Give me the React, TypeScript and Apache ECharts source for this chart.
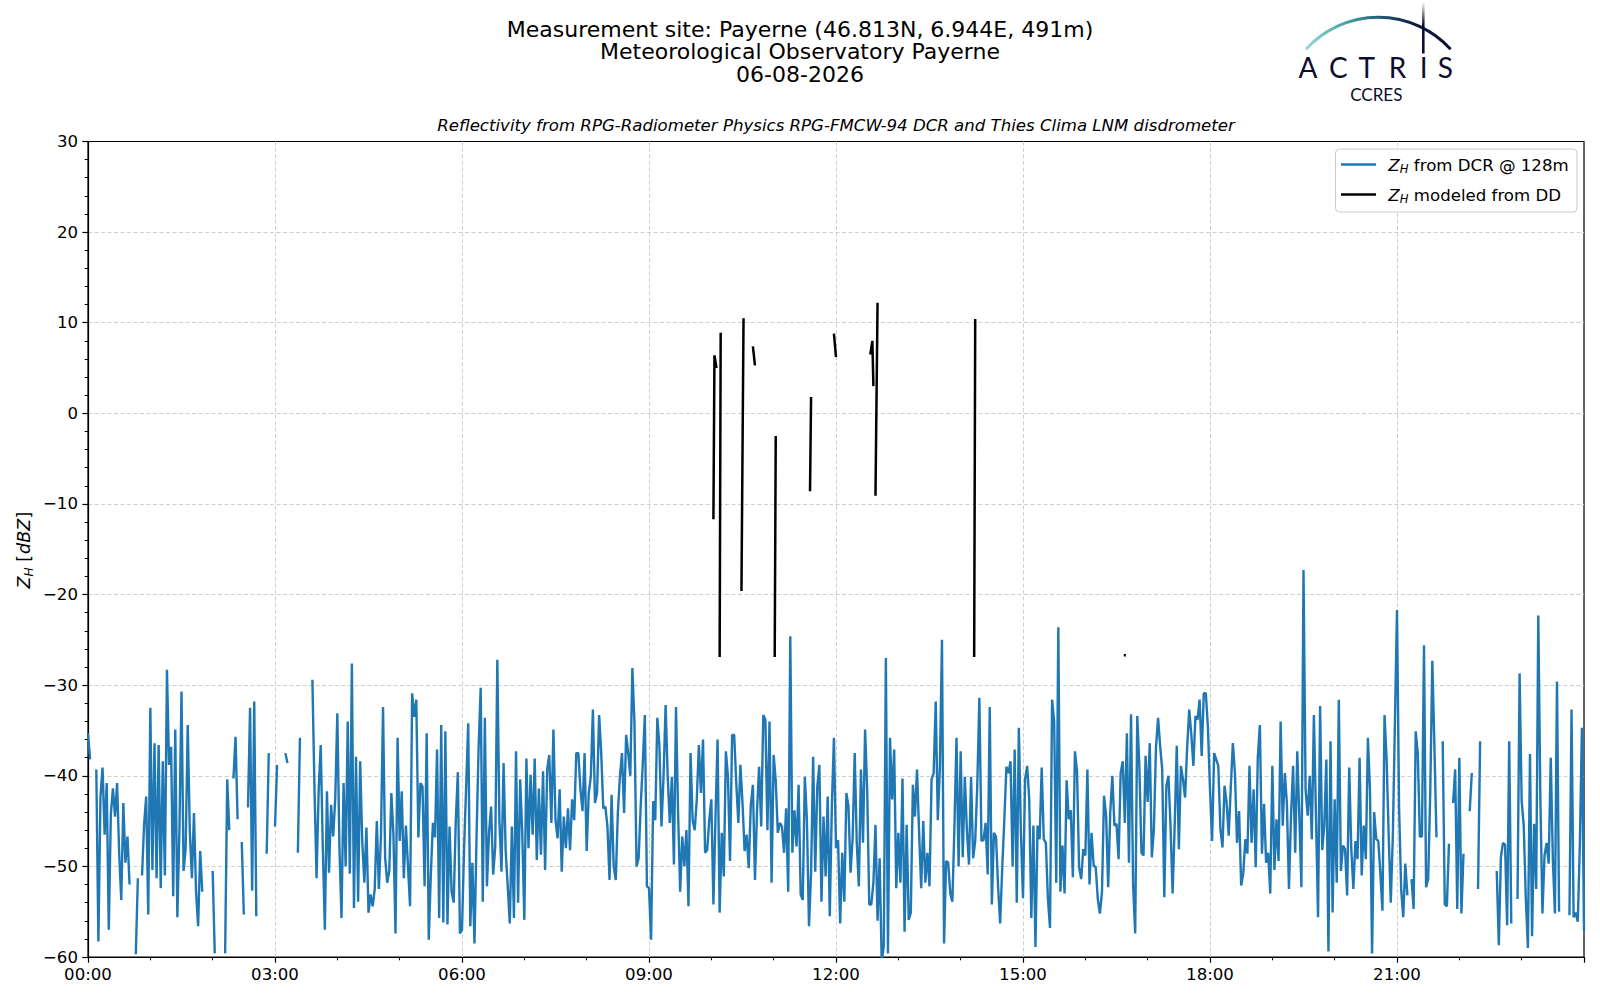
import React, { useEffect, useRef } from "react";
import * as echarts from "echarts";

// ---- Data (2-minute resolution, null = no data) ----
const DCR_00_03 = [
  -35.3, -38.2, null, null, -39.3, -58.3, -42.3, -39.1, -46.5, -40.8,
  -57.0, -44.2, -41.4, -44.5, -40.8, -48.5, -53.7, -43.0, -49.6, -46.7,
  -52.0, null, null, -59.7, -51.3, null, -51.0, -45.4, -42.3, -55.3,
  -32.5, -50.4, -36.4, -51.3, -36.6, -52.4, -38.4, -51.0, -28.3, -38.8,
  -36.8, -53.3, -34.9, -55.6, -46.1, -30.7, -50.5, -48.0, -34.4, -46.1,
  -51.3, -44.1, -52.8, -56.6, -48.3, -52.8, null, null, null, null,
  -50.5, -59.6, null, null, null, null, -59.6, -40.4, -46.0, null,
  -40.3, -35.7, -44.8, null, -47.3, -55.3, null, -43.5, -32.5, -52.7,
  -31.8, -55.5, null, null, null, null, -48.6, -37.5, null, null,
];
const DCR_03_06 = [
  -45.6, -38.8, null, null, null, -37.5, -38.6, null, null, null,
  null, -48.5, -35.8, null, null, null, null, null, -29.4, -41.4,
  -51.3, -41.7, -36.6, -47.8, -57.0, -41.7, -50.7, -43.2, -46.7, -42.5,
  -33.1, -47.8, -55.7, -40.8, -50.0, -34.0, -50.8, -27.6, -54.6, -37.9,
  -53.9, -38.4, -47.3, -51.8, -45.7, -55.1, -53.1, -54.4, -52.5, -45.0,
  -52.5, -46.6, -32.4, -49.0, -51.8, -50.5, -41.9, -46.5, -57.4, -35.8,
  -47.2, -41.7, -51.3, -45.5, -50.0, -54.4, -30.9, -33.5, -31.6, -46.8,
  -40.8, -41.2, -52.2, -35.3, -58.1, -50.9, -45.2, -46.8, -37.1, -55.7,
  -34.4, -56.2, -35.1, -56.4, -45.6, -52.8, -54.0, -45.0, -39.6, -57.4,
];
const DCR_06_09 = [
  -57.0, -48.0, -41.2, -34.2, -56.6, -49.6, -58.5, -46.7, -36.8, -30.3,
  -53.9, -33.6, -52.2, -46.3, -43.4, -50.9, -47.8, -27.2, -44.9, -50.6,
  -38.6, -48.2, -52.2, -56.3, -45.6, -55.7, -37.3, -54.0, -40.4, -46.3,
  -55.9, -38.1, -48.0, -39.9, -46.5, -38.1, -49.3, -41.4, -48.7, -39.5,
  -50.4, -39.3, -37.7, -45.2, -34.9, -44.9, -46.9, -41.5, -50.6, -44.5,
  -48.0, -43.6, -48.2, -42.6, -44.9, -37.5, -37.5, -41.5, -43.9, -37.5,
  -48.3, -41.9, -40.1, -32.7, -43.0, -41.9, -33.3, -37.5, -43.6, -43.4,
  -45.6, -51.5, -42.1, -50.0, -51.5, -44.1, -40.1, -37.5, -44.1, -35.5,
  -37.5, -40.0, -28.1, -34.2, -50.0, -49.1, -43.4, -38.6, -33.3, -52.2,
];
const DCR_09_12 = [
  -52.4, -58.1, -42.8, -44.9, -33.6, -36.6, -45.6, -40.1, -32.2, -40.1,
  -45.2, -40.1, -49.8, -32.4, -44.1, -52.8, -46.7, -50.0, -46.0, -54.4,
  -37.5, -44.9, -46.0, -42.6, -36.6, -41.9, -36.0, -48.5, -48.2, -44.9,
  -42.6, -54.2, -44.5, -36.0, -55.1, -46.3, -51.1, -37.3, -40.1, -49.4,
  -35.5, -35.5, -40.8, -45.2, -38.8, -43.0, -48.3, -46.5, -50.2, -43.2,
  -41.0, -51.5, -43.8, -39.0, -45.6, -33.3, -33.8, -46.0, -34.0, -51.8,
  -37.7, -40.6, -46.3, -45.2, -45.6, -48.5, -43.6, -52.8, -24.6, -48.5,
  -43.8, -47.8, -41.0, -53.1, -53.7, -40.1, -44.9, -56.6, -50.7, -37.9,
  -50.6, -41.2, -38.8, -53.9, -44.5, -51.1, -42.3, -55.5, -43.4, -35.8,
];
const DCR_12_15 = [
  -48.0, -47.1, -56.3, -48.5, -53.9, -41.9, -43.4, -50.7, -46.9, -37.5,
  -47.4, -52.2, -39.3, -47.4, -34.9, -41.5, -54.2, -54.2, -51.8, -45.4,
  -56.0, -49.1, -60.5, -58.8, -27.0, -59.6, -35.8, -42.6, -37.1, -52.4,
  -46.3, -51.8, -40.3, -57.2, -45.4, -55.9, -55.1, -41.0, -44.5, -39.3,
  -46.3, -52.4, -45.0, -51.8, -48.5, -52.2, -40.4, -39.7, -31.8, -44.9,
  -39.0, -25.0, -58.5, -49.4, -49.6, -53.0, -53.9, -45.6, -35.8, -50.0,
  -37.3, -49.0, -40.1, -46.0, -49.8, -40.1, -49.1, -47.2, -41.0, -31.4,
  -47.2, -47.1, -45.2, -50.9, -32.4, -54.2, -46.3, -46.7, -52.2, -56.3,
  -50.2, -44.9, -39.0, -39.7, -38.4, -50.0, -37.1, -54.0, -34.7, -46.3,
];
const DCR_15_18 = [
  -53.5, -40.4, -38.9, -42.6, -55.7, -45.5, -58.9, -45.5, -47.0, -39.1,
  -47.0, -47.4, -53.6, -56.8, -31.6, -34.0, -51.8, -23.6, -52.8, -47.7,
  -53.0, -40.5, -44.8, -43.8, -51.2, -37.3, -39.5, -50.1, -51.4, -48.1,
  -48.8, -39.3, -52.0, -46.3, -49.9, -50.1, -53.6, -55.2, -52.9, -42.2,
  -44.4, -52.3, -44.0, -40.0, -45.5, -45.3, -49.2, -39.7, -38.4, -45.2,
  -35.3, -49.6, -33.2, -52.1, -57.4, -33.4, -38.9, -48.5, -48.8, -37.8,
  -42.9, -36.4, -49.0, -45.9, -36.9, -33.6, -36.7, -39.3, -53.4, -41.1,
  -40.0, -45.5, -53.0, -45.5, -36.7, -48.1, -38.9, -40.4, -42.4, -36.9,
  -32.7, -35.4, -38.9, -33.4, -33.8, -31.6, -37.8, -30.9, -30.9, -34.7,
];
const DCR_18_21 = [
  -41.5, -47.2, -37.5, -38.2, -38.9, -45.9, -47.9, -41.1, -43.0, -46.6,
  -41.3, -36.4, -39.7, -47.4, -43.9, -52.1, -50.8, -47.0, -48.6, -38.9,
  -47.4, -41.5, -50.1, -38.0, -34.4, -48.6, -43.1, -49.6, -48.5, -53.0,
  -38.9, -50.4, -44.8, -49.4, -34.0, -45.5, -39.7, -43.0, -52.5, -44.4,
  -38.9, -48.5, -37.3, -44.6, -52.3, -17.3, -41.5, -44.4, -40.0, -47.0,
  -33.3, -44.4, -55.6, -32.3, -48.2, -45.5, -38.2, -59.4, -36.2, -55.1,
  -42.6, -51.8, -31.6, -50.5, -47.7, -48.1, -53.2, -39.1, -48.1, -52.5,
  -47.2, -49.2, -38.0, -51.0, -45.5, -49.2, -35.8, -41.6, -59.6, -44.0,
  -47.0, -47.2, -50.8, -54.9, -33.3, -38.2, -46.6, -54.0, -46.6, -34.0,
];
const DCR_21_24 = [
  -21.7, -43.5, -52.5, -55.6, -49.7, -53.2, null, -51.4, -54.7, -35.1,
  -37.5, -46.7, -46.7, -25.6, -52.3, -51.4, -41.9, -27.3, -36.7, -46.8,
  null, null, -36.2, -54.2, -54.4, -47.5, null, -43.0, -39.3, -54.7,
  -38.0, -55.2, -48.6, null, null, -43.9, -39.7, null, null, -52.5,
  -36.2, null, null, null, null, null, null, null, -50.5, -58.7,
  -49.0, -47.4, -47.6, -56.5, -36.2, -56.3, null, null, -53.6, -28.7,
  -42.8, -45.5, -53.6, -59.0, -37.6, -57.7, -45.3, -52.5, -22.3, -42.6,
  -55.2, -48.8, -47.4, -49.7, -38.0, -49.2, -55.2, -29.6, -55.0, null,
  null, null, null, -55.4, -32.7, -55.6, -55.1, -56.1, -47.6, -34.7,
  -57.1,
];
const DCR_STEP_MIN = 2;

// Disdrometer-modeled reflectivity: minute of day, value (null = gap)
const DD_MINUTES = [
  602, 603, 605, 606, 608, 609, 610, 629, 631, 632, 640, 642, 643,
  661, 662, 663, 695, 696, 697, 718, 720, 721, 753, 755, 756, 757,
  758, 760, 761, 853, 854, 855, 997, 999,
];
const DD_VALUES = [
  -11.7, 6.4, 5.0, null, -26.9, 8.9, null, -19.6, 10.5, null, 7.4, 5.3, null,
  -26.9, -2.5, null, -8.6, 1.8, null, 8.8, 6.2, null, 6.5, 8.0, 3.0, null,
  -9.1, 12.2, null, -26.9, 10.4, null, -26.7, -26.7,
];

const X_TICKS_HOURS = [0, 3, 6, 9, 12, 15, 18, 21];
const TITLE_LINES = [
  "Measurement site: Payerne (46.813N, 6.944E, 491m)",
  "Meteorological Observatory Payerne",
  "06-08-2026",
];
const SUBTITLE =
  "Reflectivity from RPG-Radiometer Physics RPG-FMCW-94 DCR and Thies Clima LNM disdrometer";
const LEGEND_NAMES = ["Z_H from DCR @ 128m", "Z_H modeled from DD"];
const LEGEND_REST = [" from DCR @ 128m", " modeled from DD"];
const LOGO_LETTERS = ["A", "C", "T", "R", "I", "S"];

const FONT = "DejaVu Sans";
const BLUE = "#1f77b4";
const NAVY = "#0d0d30";
const FS = 16.6;
const YL = 17.5;

function txt(x: number, y: number, text: string, size: number, opts: any = {}) {
  return {
    type: "text",
    x,
    y,
    z: opts.z != null ? opts.z : 50,
    silent: true,
    style: {
      text,
      fontFamily: opts.family || FONT,
      fontSize: size,
      fontStyle: opts.italic ? "italic" : "normal",
      fontWeight: opts.weight || "normal",
      fill: opts.color || "#000",
      lineHeight: opts.lineHeight || undefined,
      align: opts.align || "left",
      textAlign: opts.align || "left",
      verticalAlign: "middle",
      textVerticalAlign: "middle",
    },
  };
}

export default function App() {
  const ref = useRef<HTMLDivElement>(null);

  useEffect(() => {
    if (!ref.current) return;
    const chart = echarts.init(ref.current, null, { renderer: "svg" });

    const dcrAll = [
      ...DCR_00_03, ...DCR_03_06, ...DCR_06_09, ...DCR_09_12,
      ...DCR_12_15, ...DCR_15_18, ...DCR_18_21, ...DCR_21_24,
    ];
    const dcrData = dcrAll.map((v, i) => [(i * DCR_STEP_MIN) / 60, v]);
    const ddData = DD_MINUTES.map((m, i) => [m / 60, DD_VALUES[i]]);

    const gridL = 88, gridT = 141.5, gridR = 1584, gridB = 957;

    const legendX = 1335.5, legendY = 149;
    const legendEls: any[] = [
      {
        type: "rect",
        silent: true,
        z: 100,
        shape: { x: legendX, y: legendY, width: 241.5, height: 63, r: 4 },
        style: { fill: "rgba(255,255,255,0.85)", stroke: "#cccccc", lineWidth: 1 },
      },
    ];
    [BLUE, "#000"].forEach((c, i) => {
      const cy = 164.5 + i * 30;
      legendEls.push({
        type: "line",
        silent: true,
        z: 101,
        shape: { x1: 1341, y1: cy, x2: 1376, y2: cy },
        style: { stroke: c, lineWidth: 2.4 },
      });
      legendEls.push(txt(1388.3, cy + 0.5, "Z", FS, { italic: true, z: 101 }));
      legendEls.push(txt(1399.8, cy + 4.8, "H", 11.6, { italic: true, z: 101 }));
      legendEls.push(txt(1408.6, cy + 0.5, LEGEND_REST[i], FS, { z: 101 }));
    });

    const letterX = [1308, 1338.3, 1366.7, 1397.5, 1423.7, 1445.3];
    const splitLine = {
      show: true,
      showMinLine: false,
      showMaxLine: false,
      lineStyle: { color: "#cfcfcf", type: [4, 2.5], width: 1 },
    };

    const option: any = {
      animation: false,
      backgroundColor: "#ffffff",
      textStyle: { fontFamily: FONT },
      title: [
        ...TITLE_LINES.map((t, i) => ({
          text: t,
          left: 800,
          top: 18 + i * 22.5,
          textAlign: "center",
          padding: 0,
          textStyle: {
            fontFamily: FONT,
            fontSize: 22,
            fontWeight: "normal",
            color: "#000",
            lineHeight: 22,
          },
        })),
        {
          text: SUBTITLE,
          left: 836,
          top: 115,
          textAlign: "center",
          padding: 0,
          textStyle: {
            fontFamily: FONT,
            fontSize: FS,
            fontStyle: "italic",
            fontWeight: "normal",
            color: "#000",
            lineHeight: 20,
          },
        },
      ],
      grid: {
        left: gridL,
        top: gridT,
        width: gridR - gridL,
        height: gridB - gridT,
        show: true,
        borderColor: "#000",
        borderWidth: 1.2,
        backgroundColor: "transparent",
        containLabel: false,
      },
      xAxis: {
        type: "value",
        min: 0,
        max: 24,
        interval: 3,
        axisLine: { show: true, onZero: false, lineStyle: { color: "#000", width: 1.2 } },
        axisTick: { show: true, inside: false, length: 5.7, lineStyle: { color: "#000", width: 1.2 } },
        minorTick: { show: true, splitNumber: 3, length: 3.3, lineStyle: { color: "#000", width: 1 } },
        axisLabel: {
          show: true,
          margin: 9,
          showMaxLabel: false,
          color: "#000",
          fontSize: FS,
          fontFamily: FONT,
          formatter: (v: number) =>
            X_TICKS_HOURS.indexOf(Math.round(v)) >= 0 ? String(Math.round(v)).padStart(2, "0") + ":00" : "",
        },
        splitLine,
      },
      yAxis: {
        type: "value",
        min: -60,
        max: 30,
        interval: 10,
        axisLine: { show: true, onZero: false, lineStyle: { color: "#000", width: 1.2 } },
        axisTick: { show: true, inside: false, length: 5.7, lineStyle: { color: "#000", width: 1.2 } },
        minorTick: { show: true, splitNumber: 5, length: 3.3, lineStyle: { color: "#000", width: 1 } },
        axisLabel: {
          show: true,
          margin: 10,
          color: "#000",
          fontSize: FS,
          fontFamily: FONT,
          formatter: (v: number) => (v < 0 ? "\u2212" + Math.abs(v) : String(v)),
        },
        splitLine,
      },
      series: [
        {
          name: LEGEND_NAMES[0],
          type: "line",
          data: dcrData,
          showSymbol: false,
          symbol: "none",
          connectNulls: false,
          lineStyle: { color: BLUE, width: 2.4 },
          itemStyle: { color: BLUE },
          clip: true,
          silent: true,
        },
        {
          name: LEGEND_NAMES[1],
          type: "line",
          data: ddData,
          showSymbol: false,
          symbol: "none",
          connectNulls: false,
          lineStyle: { color: "#000", width: 2.5 },
          itemStyle: { color: "#000" },
          clip: true,
          silent: true,
        },
      ],
      graphic: [
        // y-axis label: Z_H [dBZ]
        {
          type: "group",
          x: 24,
          y: 548.5,
          rotation: Math.PI / 2,
          silent: true,
          children: [
            txt(-40, 0, "Z", YL, { italic: true }),
            txt(-28, 5, "H", 12.2, { italic: true }),
            txt(-18.8, 0, " [", YL),
            txt(-5.4, 0, "dBZ", YL, { italic: true }),
            txt(30, 0, "]", YL),
          ],
        },
        // legend
        ...legendEls,
        // ACTRIS logo
        {
          type: "arc",
          silent: true,
          shape: { cx: 1378.3, cy: 115.1, r: 97.8, startAngle: -2.404, endAngle: -0.738, clockwise: true },
          style: {
            fill: "none",
            lineWidth: 3,
            stroke: {
              type: "linear",
              x: 0, y: 0, x2: 1, y2: 0,
              colorStops: [
                { offset: 0, color: "#95dad0" },
                { offset: 0.3, color: "#3f9fa3" },
                { offset: 0.55, color: "#1d4f6e" },
                { offset: 0.75, color: "#121a42" },
                { offset: 1, color: NAVY },
              ],
            },
          },
        },
        {
          type: "rect",
          silent: true,
          shape: { x: 1422, y: 2, width: 2.6, height: 51.5 },
          style: {
            stroke: "none",
            fill: {
              type: "linear",
              x: 0, y: 0, x2: 0, y2: 1,
              colorStops: [
                { offset: 0, color: "rgba(13,13,48,0)" },
                { offset: 0.45, color: NAVY },
                { offset: 1, color: NAVY },
              ],
            },
          },
        },
        ...LOGO_LETTERS.map((l, i) =>
          txt(letterX[i], 67, l, 28, { align: "center", family: "Lato", color: NAVY, lineHeight: 27 })
        ),
        txt(1376.3, 94.5, "CCRES", 17, { align: "center", family: "Lato", color: NAVY, lineHeight: 16 }),
      ],
    };

    chart.setOption(option);
    return () => chart.dispose();
  }, []);

  return (
    <div
      ref={ref}
      style={{ position: "absolute", left: 0, top: 0, width: 1600, height: 1000, background: "#fff" }}
    />
  );
}
